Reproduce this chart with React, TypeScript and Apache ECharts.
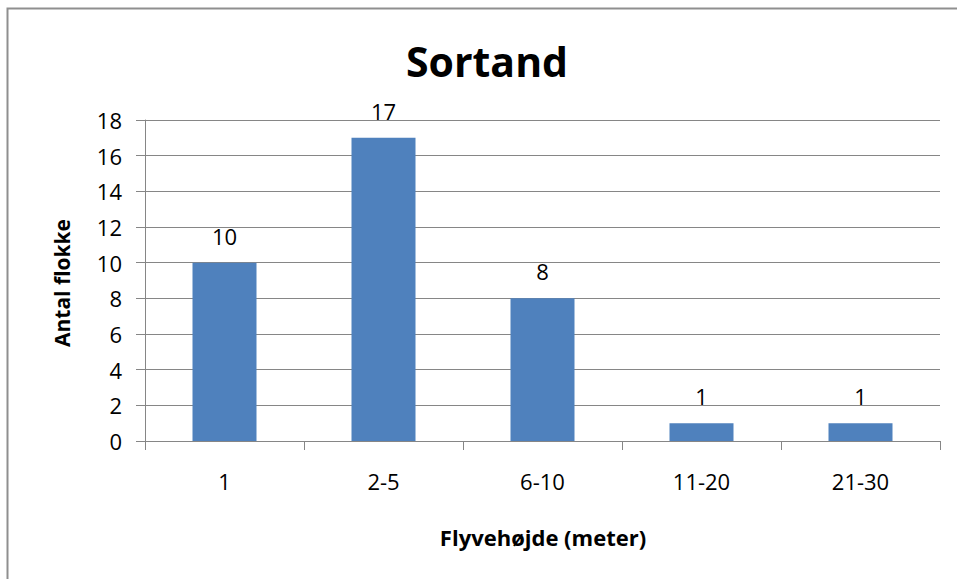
import React, { useEffect, useRef } from "react";
import * as echarts from "echarts";

const categories = ["1", "2-5", "6-10", "11-20", "21-30"];
const values = [10, 17, 8, 1, 1];
const yTicks = { min: 0, max: 18, interval: 2 };
const titleText = "Sortand";
const xName = "Flyvehøjde (meter)";
const yName = "Antal flokke";

const FONT = "'Open Sans', 'DejaVu Sans', sans-serif";

export default function App() {
  const ref = useRef<HTMLDivElement>(null);
  useEffect(() => {
    if (!ref.current) return;
    const chart = echarts.init(ref.current, null, { renderer: "svg" });
    chart.setOption({
      animation: false,
      backgroundColor: "#ffffff",
      graphic: [
        {
          type: "rect",
          shape: { x: 7.5, y: 8.5, width: 1000, height: 1000 },
          style: { fill: "none", stroke: "#8f8f8f", lineWidth: 2 },
          silent: true,
        },
        {
          type: "text",
          x: 487,
          y: 61,
          style: {
            text: titleText,
            fontFamily: FONT,
            fontWeight: "bold",
            fontSize: 41,
            fill: "#000",
            align: "center",
            verticalAlign: "middle",
          },
        },
        {
          type: "text",
          x: 62,
          y: 283,
          rotation: Math.PI / 2,
          style: {
            text: yName,
            fontFamily: FONT,
            fontWeight: "bold",
            fontSize: 21,
            fill: "#000",
            align: "center",
            verticalAlign: "middle",
          },
        },
        {
          type: "text",
          x: 543,
          y: 537,
          style: {
            text: xName,
            fontFamily: FONT,
            fontWeight: "bold",
            fontSize: 22,
            fill: "#000",
            align: "center",
            verticalAlign: "middle",
          },
        },
      ],
      grid: { left: 145, right: 17, top: 120, bottom: 138, containLabel: false },
      xAxis: {
        type: "category",
        data: categories,
        axisLine: { show: true, lineStyle: { color: "#868686", width: 1 } },
        axisTick: { show: true, length: 9, alignWithLabel: false, lineStyle: { color: "#868686" } },
        axisLabel: { margin: 29, fontFamily: FONT, fontSize: 22, color: "#000" },
        splitLine: { show: false },
      },
      yAxis: {
        type: "value",
        min: yTicks.min,
        max: yTicks.max,
        interval: yTicks.interval,
        axisLine: { show: true, lineStyle: { color: "#868686", width: 1 } },
        axisTick: { show: true, length: 9, inside: false, lineStyle: { color: "#868686" } },
        axisLabel: { margin: 23, fontFamily: FONT, fontSize: 22, color: "#000" },
        splitLine: { show: true, lineStyle: { color: "#868686", width: 1 } },
      },
      series: [
        {
          type: "bar",
          data: values,
          barWidth: 64,
          itemStyle: { color: "#4F81BD" },
          label: {
            show: true,
            position: "top",
            distance: 16,
            fontFamily: FONT,
            fontSize: 22,
            color: "#000",
          },
        },
      ],
    });
    return () => chart.dispose();
  }, []);
  return (
    <div
      ref={ref}
      style={{ position: "absolute", left: 0, top: 0, width: 957, height: 579, background: "#fff" }}
    />
  );
}
